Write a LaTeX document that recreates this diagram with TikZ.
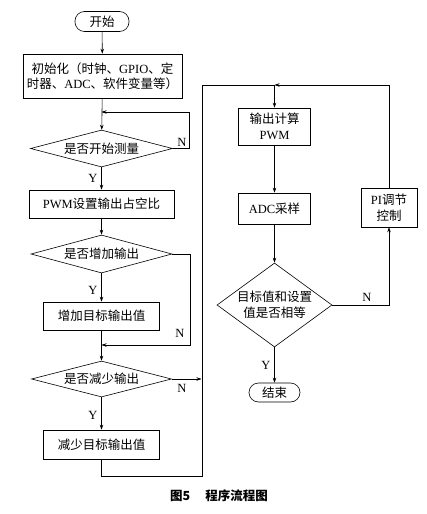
\documentclass[tikz,border=0pt]{standalone}
\usepackage{fontspec}
\setmainfont{Liberation Serif}
\newfontfamily\cjk{Noto Sans CJK SC}
\usetikzlibrary{arrows.meta,shapes.geometric}
\newcommand\zh[1]{{\cjk #1}}
\newcommand\fsz{\fontsize{12.5}{15.5}\selectfont}

\begin{document}
\begin{tikzpicture}[x=1pt,y=-1pt,line width=0.6pt,
  >={Stealth[length=5pt,width=3.5pt]},
  box/.style={draw,rectangle,inner sep=0pt,align=center,font=\fsz},
  term/.style={draw,rectangle,rounded corners=9.5pt,inner sep=0pt,font=\fsz},
  test/.style={draw,diamond,aspect=3.5,inner sep=0pt,align=center,font=\fsz},
  yn/.style={font=\fsz,inner sep=1pt}]
  \useasboundingbox(0,0)rectangle(426,514);
  % left column
  \node[term,minimum width=54pt,minimum height=20pt](start)at(102,21.5){\zh{开始}};
  \node[box,minimum width=159pt,minimum height=44pt](init)at(102.5,76)
    {\zh{初始化（时钟、}GPIO\zh{、定}\\\zh{时器、}ADC\zh{、软件变量等）}};
  \node[test,minimum width=142pt,minimum height=37pt](d1)at(101.5,148.5){\zh{是否开始测量}};
  \node[box,minimum width=145pt,minimum height=28pt](pwm)at(101.5,204){PWM\zh{设置输出占空比}};
  \node[test,minimum width=141pt,minimum height=38pt](d2)at(101.5,254){\zh{是否增加输出}};
  \node[box,minimum width=116pt,minimum height=28pt](inc)at(101.5,316){\zh{增加目标输出值}};
  \node[test,minimum width=140pt,minimum height=36pt](d3)at(101.5,379){\zh{是否减少输出}};
  \node[box,minimum width=116pt,minimum height=29pt](dec)at(101.5,444.5){\zh{减少目标输出值}};
  % right column
  \node[box,minimum width=72pt,minimum height=37pt](calc)at(274.5,126.5){\zh{输出计算}\\PWM};
  \node[box,minimum width=72pt,minimum height=31pt](adc)at(274.5,208.5){ADC\zh{采样}};
  \node[test,aspect=1.4,minimum width=115pt,minimum height=84pt](d4)at(274.5,305){\zh{目标值和设置}\\\zh{值是否相等}};
  \node[box,minimum width=56pt,minimum height=39pt](pi)at(389,207.5){PI\zh{调节}\\\zh{控制}};
  \node[term,minimum width=51pt,minimum height=19pt](stop)at(274.5,392.5){\zh{结束}};
  \coordinate(top)at(274.5,85);
  \coordinate(bot)at(101.5,476);
  \coordinate(rline)at(201.5,379);
  % connectors
  \draw[->](start)--(init);
  \draw[->](init)--(d1);
  \draw[->](d1.east)--(189,148.5)|-(101.5,112);
  \draw[->](d1)--(pwm);
  \draw[->](pwm)--(d2);
  \draw[->](d2)--(inc);
  \draw[->](d2.east)--(190,254)|-(101.5,345);
  \draw[->](inc)--(d3);
  \draw[->](d3.east)--(rline);
  \draw[->](d3)--(dec);
  \draw[->](dec.south)--(bot)-|(202,85)--(top)--(calc.north);
  \draw[->](calc)--(adc);
  \draw[->](adc)--(d4);
  \draw[->](d4.east)-|(pi.south);
  \draw[->](pi.north)|-(top);
  \draw[->](d4)--(stop);
  % labels
  \node[yn](y1)at(93,178){Y};
  \node[yn](n1)at(182,142){N};
  \node[yn](y2)at(93,290){Y};
  \node[yn](n2)at(180,333){N};
  \node[yn](n3)at(182,388){N};
  \node[yn](y3)at(93,415){Y};
  \node[yn](n4)at(367,297){N};
  \node[yn](y4)at(266,365){Y};
  \node[font=\cjk\bfseries\fontsize{12.5}{15}\selectfont](cap)at(219,496){图5\hspace{1.2em}程序流程图};
\end{tikzpicture}
\end{document}
